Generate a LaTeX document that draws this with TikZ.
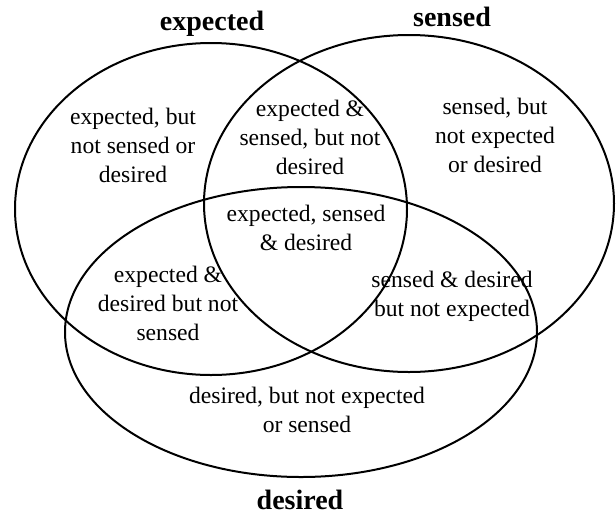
\documentclass[tikz,border=0pt]{standalone}
\usepackage{fontspec}
\setmainfont{Liberation Serif}

\begin{document}
\begin{tikzpicture}[x=.5pt,y=-.5pt,
  region/.style={align=center,inner sep=0pt,font=\fontsize{11.8}{14.5}\selectfont},
  setname/.style={inner sep=0pt,font=\bfseries\fontsize{14}{16}\selectfont}]
\path[use as bounding box] (0,0) rectangle (616,515);
% the three sets
\draw[line width=1pt] (211.0,209.0) ellipse[x radius=196,y radius=166];
\draw[line width=1pt] (409.0,203.5) ellipse[x radius=205,y radius=168.5];
\draw[line width=1pt] (301.0,332.0) ellipse[x radius=236,y radius=145];
% set names
\node[setname] (expected) at (212,24) {expected};
\node[setname] (sensed) at (452,17) {sensed};
\node[setname] (desired) at (300,500) {desired};
% regions
\node[region] (eonly) at (133,145) {expected, but\\not sensed or\\desired};
\node[region] (es) at (310,137) {expected \&\\sensed, but not\\desired};
\node[region] (sonly) at (495,135) {sensed, but\\not expected\\or desired};
\node[region] (esd) at (306,228) {expected, sensed\\\& desired};
\node[region] (ed) at (168,303) {expected \&\\desired but not\\sensed};
\node[region] (sd) at (452,296) {sensed \& desired\\but not expected};
\node[region] (donly) at (307,410) {desired, but not expected\\or sensed};
\end{tikzpicture}
\end{document}
